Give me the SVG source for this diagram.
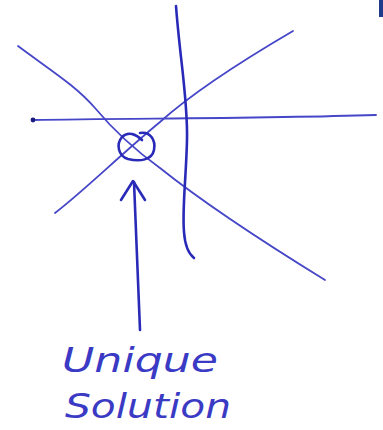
<svg xmlns="http://www.w3.org/2000/svg" width="383" height="430" viewBox="0 0 383 430">
<style>
.ln{fill:none;stroke:#4646c8;stroke-width:1.8;stroke-linecap:round;stroke-linejoin:round}
.dk{fill:none;stroke:#2a2ab8;stroke-width:2.6;stroke-linecap:round;stroke-linejoin:round}
.hw{font-family:"DejaVu Sans","Liberation Sans",sans-serif;font-style:italic;font-size:34px;fill:#3a3ac4}
</style>
<rect width="383" height="430" fill="#ffffff"/>
<rect x="379" y="0" width="4" height="17" fill="#1e3a8a"/>
<g id="lines">
<path id="horizontal" class="ln" d="M33,120 C120,118 250,119 376,115"/>
<circle cx="33" cy="120" r="2.4" fill="#1a1a80"/>
<path id="descending" class="ln" d="M18,46 C50,70 75,85 95,108 C115,132 135,150 160,168 C200,200 260,240 325,280"/>
<path id="ascending" class="ln" d="M293,31 C240,62 190,95 160,122 C120,155 85,190 55,213"/>
<path id="vertical" class="dk" d="M176,6 C180,60 188,100 187,140 C186,180 182,210 184,232 C185,246 189,254 194,258"/>
<path id="circle" class="dk" d="M140,133 C150,131 156,140 154,150 C152,160 140,162 128,159 C118,156 116,144 122,137 C128,131 136,134 142,140"/>
</g>
<g id="arrow">
<path class="dk" d="M140,330 C138,290 136,240 134,182"/>
<path class="dk" d="M121,200 L133,181 L145,200"/>
</g>
<g id="label">
<text class="hw" x="62" y="372" textLength="156" lengthAdjust="spacingAndGlyphs">Unique</text>
<text class="hw" x="65" y="418" textLength="166" lengthAdjust="spacingAndGlyphs">Solution</text>
</g>
</svg>
